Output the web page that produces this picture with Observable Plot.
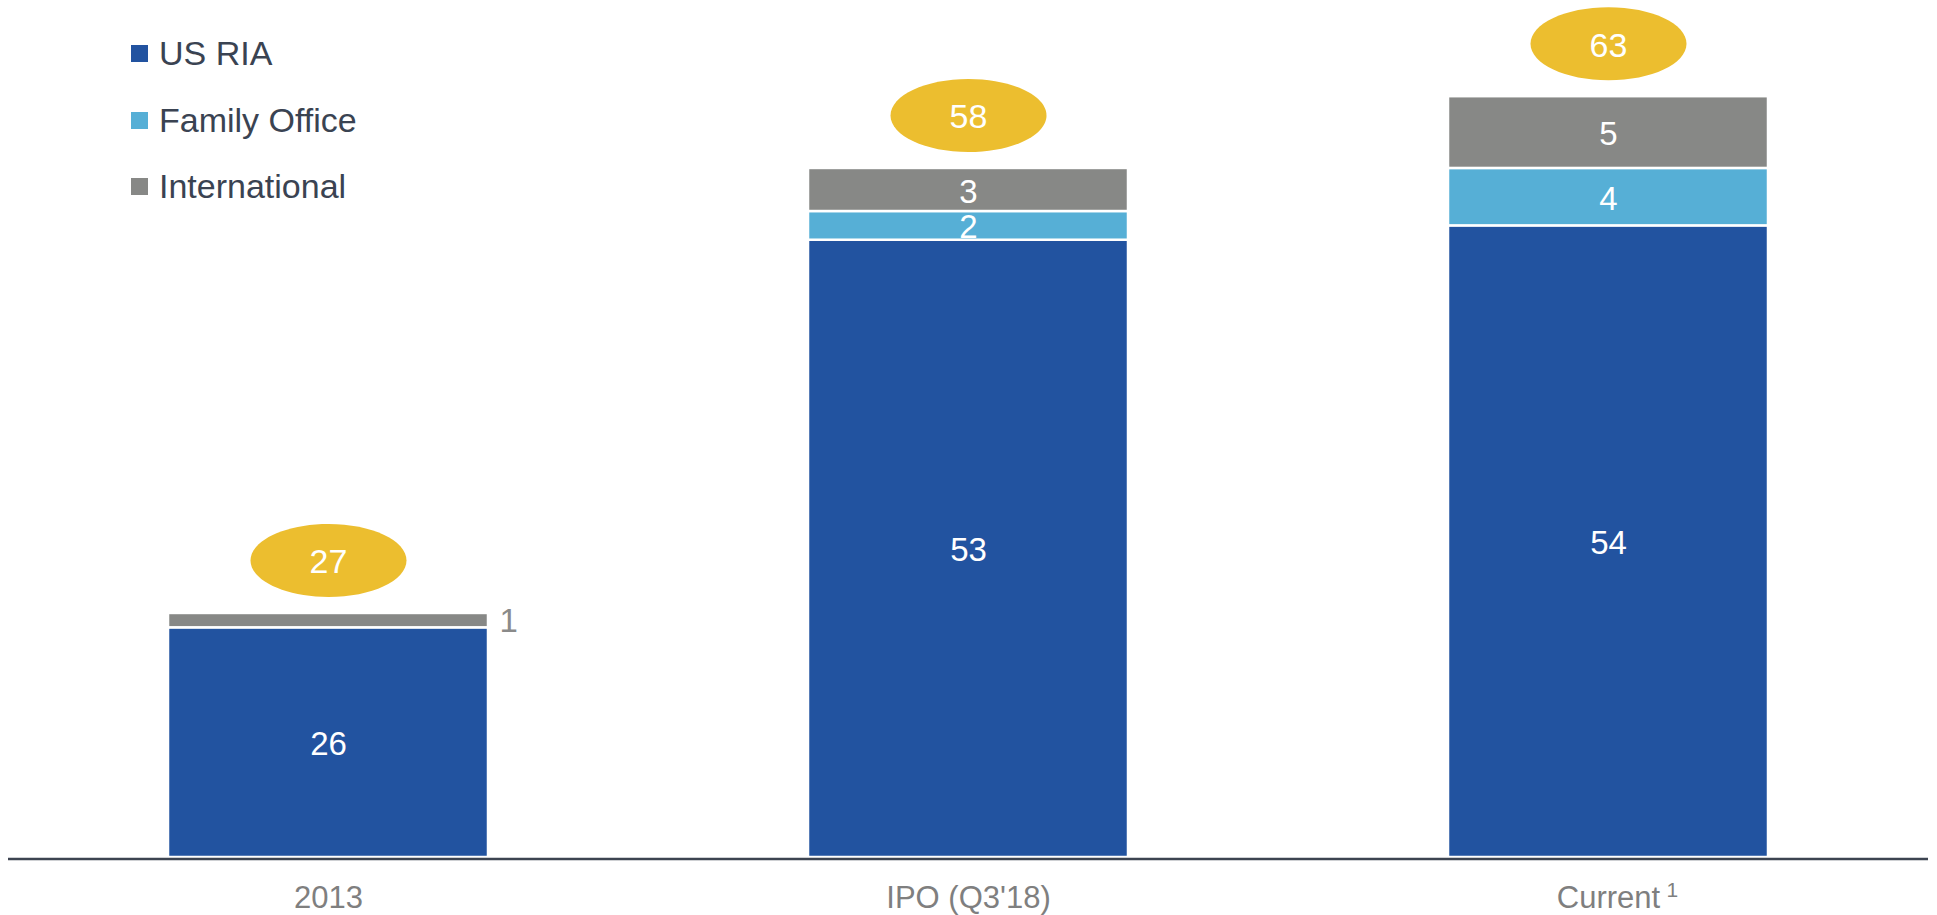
<!DOCTYPE html>
<html>
<head>
<meta charset="utf-8">
<script src="https://cdn.jsdelivr.net/npm/d3@7"></script>
<script src="https://cdn.jsdelivr.net/npm/@observablehq/plot@0.6"></script>
<style>
  html, body { margin: 0; padding: 0; background: #fff; }
  #wrap { position: relative; width: 1937px; height: 915px; font-family: "Liberation Sans", Arial, sans-serif; }
  #legend { position: absolute; left: 131px; top: 0; }
  .item { position: absolute; left: 0; display: flex; align-items: center; white-space: nowrap; font-size: 34px; color: #3a4352; height: 40px; }
  .sw { width: 17px; height: 17px; margin-right: 11px; }
</style>
</head>
<body>
<div id="wrap"><div id="legend"></div></div>
<script>
// ---- data ----
const categories = ["2013", "IPO (Q3'18)", "Current"];
const footnoteMarks = ["", "", "1"];
const seriesNames = ["US RIA", "Family Office", "International"];
const usRia = [26, 53, 54];
const familyOffice = [0, 2, 4];
const international = [1, 3, 5];
const totals = [27, 58, 63];

// ---- styles ----
const seriesColors = ["#2253a0", "#56afd6", "#878886"];
const axisFloor = 10; // y axis is truncated: baseline sits at 10

// ---- derived rows ----
const seriesValues = [usRia, familyOffice, international];
const rows = [];
categories.forEach((c, i) => {
  let acc = 0;
  seriesNames.forEach((s, j) => {
    const v = seriesValues[j][i];
    if (v > 0) {
      const y1 = acc, y2 = acc + v;
      rows.push({category: c, series: s, value: v, y1, y2, mid: (Math.max(y1, axisFloor) + y2) / 2});
    }
    acc += v;
  });
});
const totalRows = categories.map((c, i) => ({category: c, total: totals[i]}));
const noteRows = categories.map((c, i) => ({category: c, note: footnoteMarks[i]})).filter(d => d.note);
const insideRows = rows.filter(d => d.value >= 2);
const outsideRows = rows.filter(d => d.value < 2);

const ellipse = {
  draw(ctx) {
    const rx = 78, ry = 36.5, k = 0.5523;
    ctx.moveTo(rx, 0);
    ctx.bezierCurveTo(rx, ry * k, rx * k, ry, 0, ry);
    ctx.bezierCurveTo(-rx * k, ry, -rx, ry * k, -rx, 0);
    ctx.bezierCurveTo(-rx, -ry * k, -rx * k, -ry, 0, -ry);
    ctx.bezierCurveTo(rx * k, -ry, rx, -ry * k, rx, 0);
    ctx.closePath();
  }
};

const chart = Plot.plot({
  width: 1937,
  height: 915,
  marginLeft: 8,
  marginRight: 9,
  marginTop: 0,
  marginBottom: 58,
  style: {fontFamily: "'Liberation Sans', Arial, sans-serif", fontSize: "31px", color: "#7f7f7f", background: "white"},
  x: {domain: categories, paddingInner: 0.5, paddingOuter: 0.25, tickSize: 0, tickPadding: 28, label: null},
  y: {domain: [axisFloor, 69.7], clamp: true, axis: null},
  color: {domain: seriesNames, range: seriesColors},
  marks: [
    Plot.barY(rows, {x: "category", y1: "y1", y2: "y2", fill: "series", stroke: "white", strokeWidth: 2.5}),
    Plot.ruleY([axisFloor], {stroke: "#3d4451", strokeWidth: 2.5, dy: 1.5}),
    Plot.text(insideRows, {x: "category", y: "mid", text: d => String(d.value), fill: "white", fontSize: 33, dy: 2}),
    Plot.text(outsideRows, {x: "category", y: "mid", text: d => String(d.value), fill: "#8a8a8a", fontSize: 33, textAnchor: "start", dx: 171, dy: 1}),
    Plot.dot(totalRows, {x: "category", y: "total", symbol: ellipse, fill: "#ecbe2f", stroke: null, dy: -53}),
    Plot.text(totalRows, {x: "category", y: "total", text: d => String(d.total), fill: "white", fontSize: 34, dy: -51}),
    Plot.text(noteRows, {x: "category", y: () => axisFloor, text: "note", fill: "#7f7f7f", fontSize: 21, textAnchor: "start", dx: 58, dy: 33})
  ]
});
document.getElementById("wrap").prepend(chart);

// legend
const legend = document.getElementById("legend");
const centers = [53.5, 120, 186.5];
seriesNames.forEach((s, j) => {
  const item = document.createElement("div");
  item.className = "item";
  item.style.top = (centers[j] - 20) + "px";
  const sw = document.createElement("span");
  sw.className = "sw";
  sw.style.background = seriesColors[j];
  const t = document.createElement("span");
  t.textContent = s;
  item.append(sw, t);
  legend.append(item);
});
</script>
</body>
</html>
